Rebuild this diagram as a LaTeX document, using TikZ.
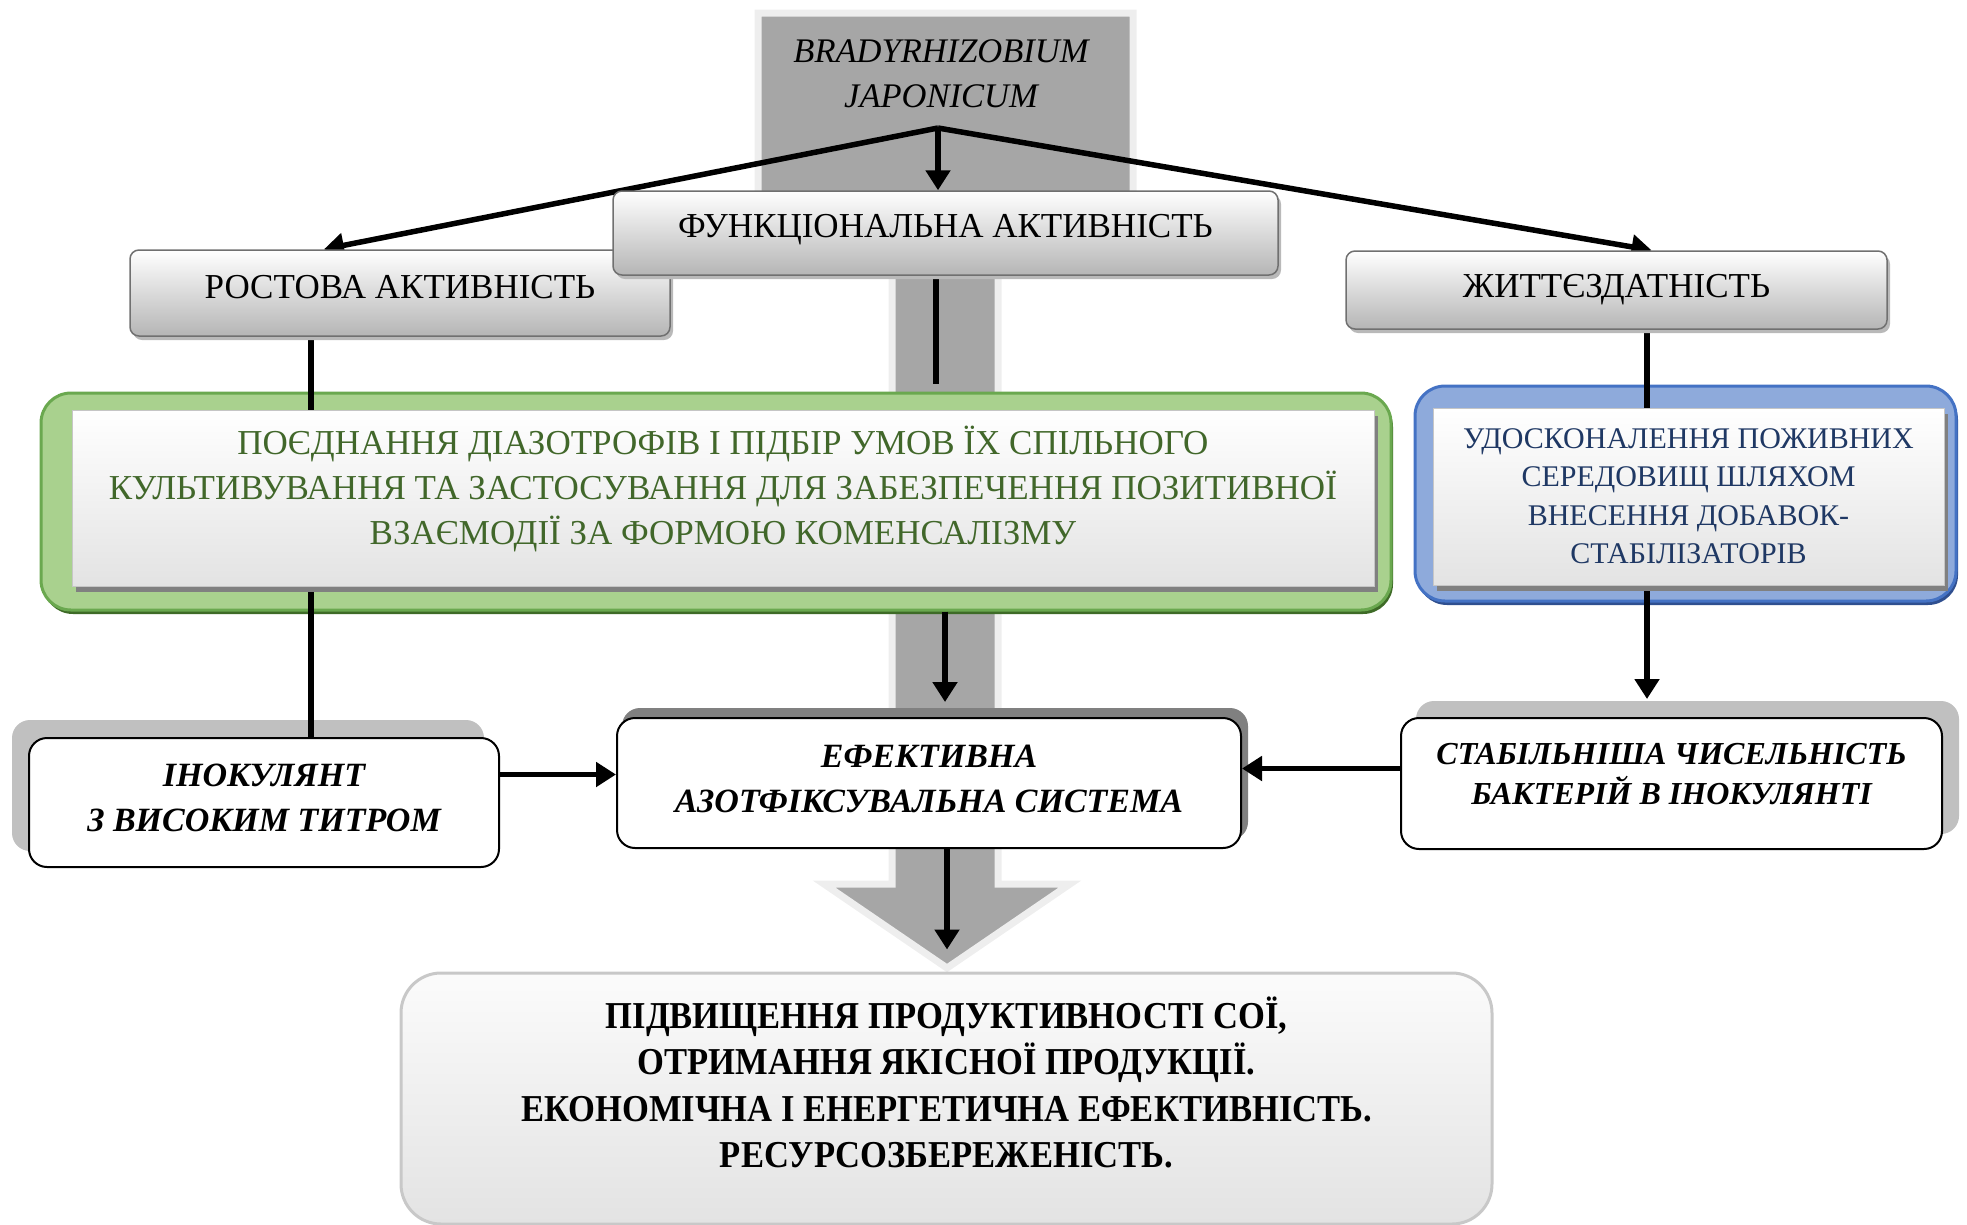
\documentclass[tikz,border=0pt]{standalone}
\usepackage{fontspec}
\setmainfont{Liberation Serif}
\newfontfamily\botf{Liberation Serif}[FakeStretch=0.91]
\usetikzlibrary{arrows.meta,calc,shadows}
\pgfdeclarelayer{back}
\pgfdeclarelayer{frame}
\pgfdeclarelayer{lines}
\pgfsetlayers{back,frame,lines,main}

\newcommand\txtup[2]{\raisebox{#1}[\height][\depth]{\begin{tabular}{@{}c@{}}#2\end{tabular}}}

\definecolor{arrowgray}{HTML}{A6A6A6}
\definecolor{arrowrim}{HTML}{EEEEEE}
\definecolor{boxline}{HTML}{707070}
\definecolor{gfill}{HTML}{A9D18E}
\definecolor{gline}{HTML}{6AA84F}
\definecolor{gshadow}{HTML}{3E6B27}
\definecolor{gtext}{HTML}{41672A}
\definecolor{bfill}{HTML}{8EAADB}
\definecolor{bline}{HTML}{4472C4}
\definecolor{bshadow}{HTML}{2F4F8F}
\definecolor{btext}{HTML}{1F3864}
\definecolor{lshadow}{HTML}{C0C0C0}
\definecolor{dshadow}{HTML}{808080}
\definecolor{botline}{HTML}{C8C8C8}

\begin{document}
\begin{tikzpicture}[x=1pt,y=-1pt,
  conn/.style={line width=5.5pt, draw=black},
  arr/.style={conn, -{Triangle[length=20pt,width=24pt]}},
  graybox/.style={draw=boxline, line width=1.5pt, rounded corners=9pt,
    top color=white, bottom color=gray!58, inner sep=0pt,
    font=\fontsize{35}{40}\selectfont,
    drop shadow={shadow xshift=3pt,shadow yshift=-4pt,fill=gray!55,opacity=1}},
  gframe/.style={draw=gline, line width=3pt, fill=gfill, rounded corners=30pt,
    drop shadow={shadow xshift=2pt,shadow yshift=-4pt,fill=gshadow,opacity=1}},
  bframe/.style={draw=bline, line width=3pt, fill=bfill, rounded corners=30pt,
    drop shadow={shadow xshift=2pt,shadow yshift=-4pt,fill=bshadow,opacity=1}},
  innerbox/.style={draw=gray!45, line width=1pt, top color=white, bottom color=gray!22,
    inner sep=0pt,
    drop shadow={shadow xshift=4pt,shadow yshift=-6pt,fill=dshadow,opacity=1}},
  whitebox/.style={draw=black, line width=2pt, fill=white, rounded corners=18pt,
    inner sep=0pt, font=\fontsize{34}{45}\selectfont\bfseries\itshape},
  botbox/.style={draw=botline, line width=3pt, rounded corners=40pt,
    top color=gray!3, bottom color=gray!22, inner sep=0pt,
    font=\botf\fontsize{38}{46.5}\selectfont\bfseries}
]
\useasboundingbox (0,0) rectangle (1967,1224);

% big background arrow
\begin{pgfonlayer}{back}
\draw[draw=arrowrim, line width=7pt, fill=arrowgray, line join=miter]
  (758,13) -- (1133,13) -- (1133,240) -- (998,240) -- (998,884) -- (1070,884)
  -- (947,968) -- (824,884) -- (892,884) -- (892,240) -- (758,240) -- cycle;
\end{pgfonlayer}

% source
\node[font=\fontsize{34.5}{45}\selectfont\itshape] (src) at (941,76)
  {\txtup{0pt}{BRADYRHIZOBIUM\\JAPONICUM}};
\coordinate (P) at (938,128);

% top gray boxes
\node[graybox, minimum width=540pt, minimum height=86pt] (rost) at (400,293) {\txtup{3pt}{РОСТОВА АКТИВНІСТЬ}};
\node[graybox, minimum width=665pt, minimum height=84pt] (func) at (945.5,233) {\txtup{4pt}{ФУНКЦІОНАЛЬНА АКТИВНІСТЬ}};
\node[graybox, minimum width=541pt, minimum height=78pt] (zhyt) at (1616.5,290) {\txtup{1pt}{ЖИТТЄЗДАТНІСТЬ}};

% green and blue frames
\begin{pgfonlayer}{frame}
\node[gframe, minimum width=1350pt, minimum height=217pt] (gout) at (716,501.5) {};
\node[bframe, minimum width=541pt, minimum height=215pt] (bout) at (1685.5,493.5) {};
\end{pgfonlayer}
\node[innerbox, minimum width=1302pt, minimum height=176pt, text=gtext,
  font=\fontsize{35}{45}\selectfont] (gin) at (723,498)
  {\txtup{8pt}{ПОЄДНАННЯ ДІАЗОТРОФІВ І ПІДБІР УМОВ ЇХ СПІЛЬНОГО\\КУЛЬТИВУВАННЯ ТА ЗАСТОСУВАННЯ ДЛЯ ЗАБЕЗПЕЧЕННЯ ПОЗИТИВНОЇ\\ВЗАЄМОДІЇ ЗА ФОРМОЮ КОМЕНСАЛІЗМУ}};
\node[innerbox, minimum width=511pt, minimum height=177pt, text=btext,
  font=\fontsize{30}{38.5}\selectfont] (bin) at (1688.5,496.5)
  {\txtup{-2pt}{УДОСКОНАЛЕННЯ ПОЖИВНИХ\\СЕРЕДОВИЩ ШЛЯХОМ\\ВНЕСЕННЯ ДОБАВОК-\\СТАБІЛІЗАТОРІВ}};

% lower white boxes
\node[whitebox, minimum width=470pt, minimum height=129pt] (ino) at (264,802.5)
  {\txtup{3pt}{ІНОКУЛЯНТ\\З ВИСОКИМ ТИТРОМ}};
\node[whitebox, minimum width=624pt, minimum height=130pt] (ef) at (929,783)
  {\txtup{2pt}{ЕФЕКТИВНА\\АЗОТФІКСУВАЛЬНА СИСТЕМА}};
\node[whitebox, minimum width=541pt, minimum height=131pt,
  font=\fontsize{32}{40}\selectfont\bfseries\itshape] (stab) at (1671.5,783.5)
  {\txtup{7pt}{СТАБІЛЬНІША ЧИСЕЛЬНІСТЬ\\БАКТЕРІЙ В ІНОКУЛЯНТІ}};

% result box
\node[botbox, minimum width=1091pt, minimum height=251pt] (res) at (946.5,1098.5)
  {\txtup{10pt}{ПІДВИЩЕННЯ ПРОДУКТИВНОСТІ СОЇ,\\ОТРИМАННЯ ЯКІСНОЇ ПРОДУКЦІЇ.\\ЕКОНОМІЧНА І ЕНЕРГЕТИЧНА ЕФЕКТИВНІСТЬ.\\РЕСУРСОЗБЕРЕЖЕНІСТЬ.}};

% shadows of lower boxes
\begin{pgfonlayer}{frame}
\fill[lshadow, rounded corners=18pt] ($(ino.south west)+(-16,-17)$) rectangle ($(ino.north east)+(-16,-17)$);
\fill[dshadow, rounded corners=18pt] ($(ef.south west)+(6,-9)$) rectangle ($(ef.north east)+(6,-9)$);
\fill[lshadow, rounded corners=18pt] ($(stab.south west)+(16,-16)$) rectangle ($(stab.north east)+(16,-16)$);
\end{pgfonlayer}

% connectors
\begin{pgfonlayer}{lines}
\draw[arr] (P) -- ($(rost.north)+(-76,0)$);
\draw[arr] (P) -- (P |- func.north);
\draw[arr] (P) -- ($(zhyt.north)+(35,0)$);

\coordinate (rl) at ($(rost.south)+(-89,0)$);
\draw[conn] (rl) -- (rl |- ino.north);

\coordinate (fl) at ($(func.south)+(-9.5,0)$);
\draw[conn, shorten >=8pt] (fl) -- (fl |- gout.north);
\coordinate (ca) at ($(ef.north)+(16,0)$);
\draw[arr, shorten >=15pt] (ca |- gout.south) -- (ca);

\coordinate (zl) at ($(zhyt.south)+(30.5,0)$);
\draw[conn] (zl) -- (zl |- bin.north);
\draw[arr, shorten >=18pt] (zl |- bin.south) -- (zl |- stab.north);

\coordinate (il) at ($(ino.east)+(0,-28)$);
\draw[arr] (il) -- (il -| ef.west);
\coordinate (sl) at ($(stab.west)+(0,-15)$);
\draw[arr] (sl) -- (sl -| ef.east);

\coordinate (eb) at ($(ef.south)+(18,0)$);
\draw[arr, shorten >=22pt] (eb) -- (eb |- res.north);
\end{pgfonlayer}
\end{tikzpicture}
\end{document}
